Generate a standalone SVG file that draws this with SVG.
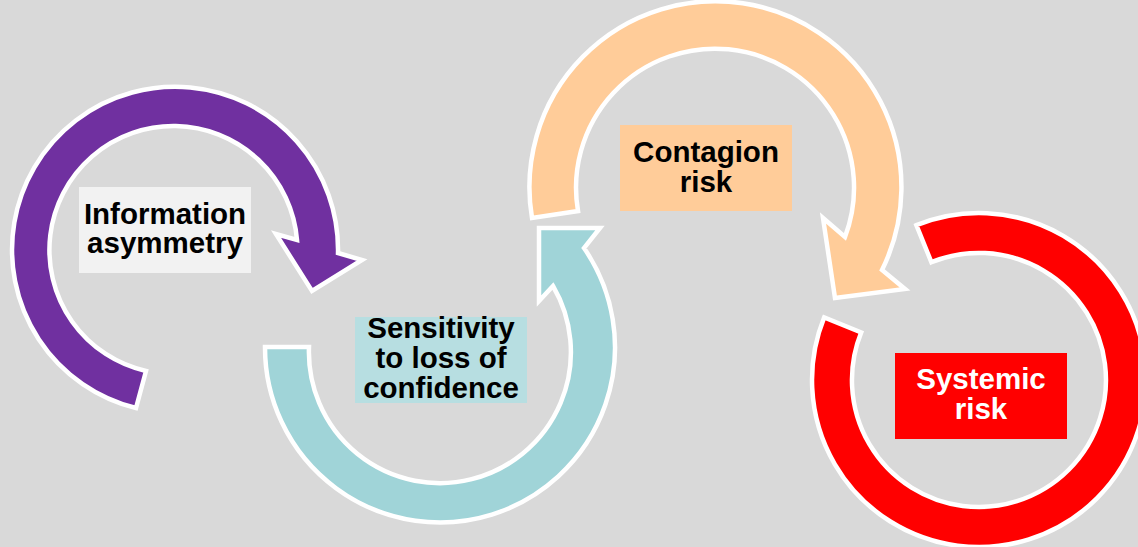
<svg xmlns="http://www.w3.org/2000/svg" width="1138" height="547" viewBox="0 0 1138 547">
  <style>
    .arr { stroke: #ffffff; stroke-width: 4.5; stroke-linejoin: miter; }
    .lbl { font-family: "Liberation Sans", Arial, sans-serif; font-weight: bold; font-size: 29.5px; text-anchor: middle; }
  </style>
  <rect x="0" y="0" width="1138" height="547" fill="#d9d9d9"/>
  <g id="connectors">
    <path id="arrow-info" class="arr" fill="#7030a0" d="M 136,408 A 163 163 0 1 1 338,253 L 362,260 L 312,291 L 276,234 L 297,240 A 124 124 0 1 0 146,371 Z"/>
    <path id="arrow-sens" class="arr" fill="#a0d4d8" d="M 265,347 A 175 175 0 1 0 584,248 L 600,228 L 539,228 L 539,301 L 553,286 A 131 131 0 1 1 309,347 Z"/>
    <path id="arrow-contagion" class="arr" fill="#ffcc99" d="M 532,218 A 186 186 0 1 1 882,270 L 905,289 L 835,298 L 823,218 L 845,237 A 139 139 0 1 0 578,211 Z"/>
    <path id="arrow-systemic" class="arr" fill="#ff0000" d="M 916.4,225.2 A 167 167 0 1 1 824.2,317.4 L 861.2,332.4 A 127 127 0 1 0 931.4,262.2 Z"/>
  </g>
  <g id="node-info">
    <rect x="79" y="187" width="172" height="86" fill="#f2f2f2"/>
    <text class="lbl" fill="#000000"><tspan x="165" y="224">Information</tspan><tspan x="165" y="253">asymmetry</tspan></text>
  </g>
  <g id="node-sens">
    <rect x="355" y="317" width="172" height="86" fill="#b7dee1"/>
    <text class="lbl" fill="#000000"><tspan x="441" y="338">Sensitivity</tspan><tspan x="441" y="368">to loss of</tspan><tspan x="441" y="398">confidence</tspan></text>
  </g>
  <g id="node-contagion">
    <rect x="620" y="125" width="172" height="86" fill="#ffcc99"/>
    <text class="lbl" fill="#000000"><tspan x="706" y="162">Contagion</tspan><tspan x="706" y="192">risk</tspan></text>
  </g>
  <g id="node-systemic">
    <rect x="895" y="353" width="172" height="86" fill="#ff0000"/>
    <text class="lbl" fill="#ffffff"><tspan x="981" y="389">Systemic</tspan><tspan x="981" y="419">risk</tspan></text>
  </g>
</svg>
